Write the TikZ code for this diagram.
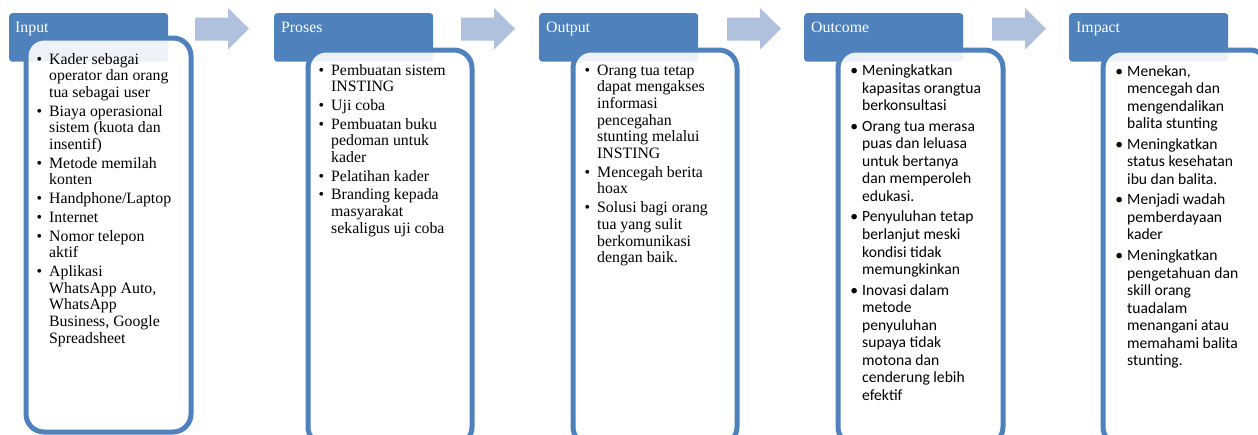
\documentclass[tikz,border=0pt]{standalone}
\usepackage{fontspec}
\setmainfont{Liberation Serif}
\newfontfamily\calib{Carlito}
\definecolor{hdrblue}{HTML}{4F81BD}
\definecolor{arwblue}{HTML}{B0C1DE}
\newlength\myBgap
\newlength\myIgap
\newcommand\bitem[1]{\noindent\llap{\textbullet\hspace{\myBgap}}#1\par\vspace{\myIgap}}
\newcommand\serifset{\fontsize{15.8}{16.7}\selectfont\raggedright\setlength\myBgap{7pt}\setlength\myIgap{2pt}}
\newcommand\sansset{\calib\fontsize{15.6}{17.55}\selectfont\raggedright\setlength\myBgap{4pt}\setlength\myIgap{3pt}}
\tikzset{
  hdr/.style={rectangle, rounded corners=3pt, fill=hdrblue, minimum width=159pt, minimum height=48.5pt, anchor=north west, inner sep=0pt},
  hdrtxt/.style={anchor=base west, inner sep=0pt, text=white, font=\fontsize{15.8}{17}\selectfont},
  box/.style={rectangle, rounded corners=18pt, fill=white, fill opacity=0.9, draw=hdrblue, draw opacity=1, line width=5pt, anchor=north west, inner sep=0pt},
  txt/.style={anchor=base west, inner sep=0pt, text=black},
  arw/.style={fill=arwblue}
}
\begin{document}
\begin{tikzpicture}[x=1pt,y=-1pt]
\useasboundingbox (0,0) rectangle (1258,434);
\clip (0,0) rectangle (1258,434);
% arrows
\foreach \xa in {195,461,727,992}{
  \fill[arw] (\xa,17.5) -- (\xa+33,17.5) -- (\xa+33,8) -- (\xa+54,28.7) -- (\xa+33,49.5) -- (\xa+33,40.5) -- (\xa,40.5) -- cycle;
}
% column 1
\node[hdr] (h1) at (9,13) {};
\node[box, minimum width=165pt, minimum height=394pt] (b1) at (23.5,35.5) {};
\node[hdrtxt] (l1) at (15,32) {Input};
\node[txt] (t1) at (49,64) {\parbox[t]{140pt}{\serifset
\bitem{Kader sebagai\\operator dan orang\\tua sebagai user}
\bitem{Biaya operasional\\sistem (kuota dan\\insentif)}
\bitem{Metode memilah\\konten}
\bitem{Handphone/Laptop}
\bitem{Internet}
\bitem{Nomor telepon\\aktif}
\bitem{Aplikasi\\WhatsApp Auto,\\WhatsApp\\Business, Google\\Spreadsheet}}};
% column 2
\node[hdr] (h2) at (274,13) {};
\node[box, minimum width=164pt, minimum height=395pt] (b2) at (305.5,47.5) {};
\node[hdrtxt] (l2) at (281,32) {Proses};
\node[txt] (t2) at (331,75) {\parbox[t]{140pt}{\serifset
\bitem{Pembuatan sistem\\INSTING}
\bitem{Uji coba}
\bitem{Pembuatan buku\\pedoman untuk\\kader}
\bitem{Pelatihan kader}
\bitem{Branding kepada\\masyarakat\\sekaligus uji coba}}};
% column 3
\node[hdr] (h3) at (539,13) {};
\node[box, minimum width=164pt, minimum height=395pt] (b3) at (570.5,47.5) {};
\node[hdrtxt] (l3) at (546,32) {Output};
\node[txt] (t3) at (597,75) {\parbox[t]{140pt}{\serifset
\bitem{Orang tua tetap\\dapat mengakses\\informasi\\pencegahan\\stunting melalui\\INSTING}
\bitem{Mencegah berita\\hoax}
\bitem{Solusi bagi orang\\tua yang sulit\\berkomunikasi\\dengan baik.}}};
% column 4
\node[hdr] (h4) at (804,13) {};
\node[box, minimum width=165pt, minimum height=395pt] (b4) at (835.5,47.5) {};
\node[hdrtxt] (l4) at (811,32) {Outcome};
\node[txt] (t4) at (862,75.5) {\parbox[t]{140pt}{\sansset
\bitem{Meningkatkan\\kapasitas orangtua\\berkonsultasi}
\bitem{Orang tua merasa\\puas dan leluasa\\untuk bertanya\\dan memperoleh\\edukasi.}
\bitem{Penyuluhan tetap\\berlanjut meski\\kondisi tidak\\memungkinkan}
\bitem{Inovasi dalam\\metode\\penyuluhan\\supaya tidak\\motona dan\\cenderung lebih\\efektif}}};
% column 5
\node[hdr] (h5) at (1069,13) {};
\node[box, minimum width=165pt, minimum height=395pt] (b5) at (1100.5,47.5) {};
\node[hdrtxt] (l5) at (1076,32) {Impact};
\node[txt] (t5) at (1127,76) {\parbox[t]{140pt}{\sansset
\bitem{Menekan,\\mencegah dan\\mengendalikan\\balita stunting}
\bitem{Meningkatkan\\status kesehatan\\ibu dan balita.}
\bitem{Menjadi wadah\\pemberdayaan\\kader}
\bitem{Meningkatkan\\pengetahuan dan\\skill orang\\tuadalam\\menangani atau\\memahami balita\\stunting.}}};
\end{tikzpicture}
\end{document}
